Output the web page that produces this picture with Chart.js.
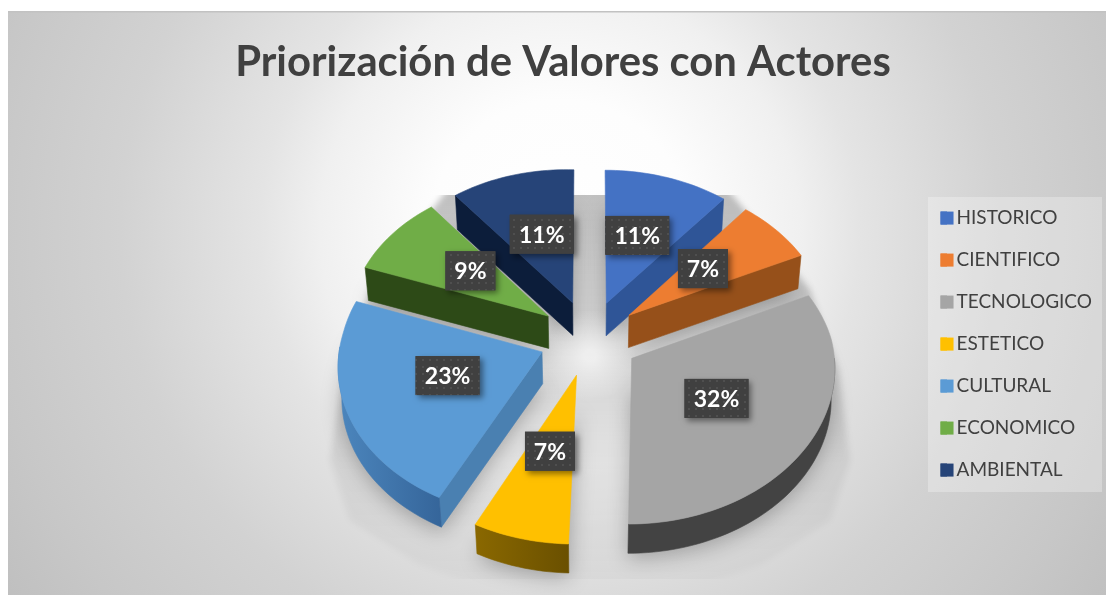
<!DOCTYPE html>
<html><head><meta charset="utf-8">
<style>html,body{margin:0;padding:0;background:#fff}canvas{display:block}</style>
<script src="https://cdn.jsdelivr.net/npm/chart.js@4/dist/chart.umd.min.js"></script>
</head><body>
<canvas id="c" width="1106" height="595"></canvas>
<script>
const categories = ['HISTORICO','CIENTIFICO','TECNOLOGICO','ESTETICO','CULTURAL','ECONOMICO','AMBIENTAL'];
const shareValues = [11,7,32,7,23,9,11];
const titleText = 'Priorización de Valores con Actores';

const topColors  = ['#4472C4','#ED7D31','#A5A5A5','#FFC000','#5B9BD5','#70AD47','#264478'];
const sideColors = ['#2F5597','#96501A','#5f5f5f','#7F6000','#4A80B1','#2D4A17','#0C1D3A'];
const rimFrom    = ['#2F5597','#96501A','#434343','#8A6800','#4C86BD','#2D4A17','#0C1D3A'];
const rimTo      = ['#2F5597','#96501A','#434343','#6A5000','#35659A','#2D4A17','#0C1D3A'];

/* 3-D view of the pie plane */
const view = {cx:589.5, cy:338, a:200.5, b:149, p:0.08, shearX:7, shearY:5, depth:32, depthSlope:2.4, converge:0.985};
const labelRadius = 0.49;
const labelLift = 4;
const explode = 0.224;

function project(u,v){const f=1/(1-view.p*v);
  return [view.cx+view.a*u*f-view.shearX*Math.max(v,0), view.cy+view.b*v*f+view.shearY*Math.min(u,0)];}
function projectBase(u,v){const q=project(u,v);
  return [view.cx+(q[0]-view.cx)*view.converge, q[1]+view.depth-view.depthSlope*v];}

function sliceGeom(el){
  const g=el.getProps(['startAngle','endAngle','outerRadius'],true);
  const mid=(g.startAngle+g.endAngle)/2, d=(el.options.offset||0)/g.outerRadius;
  return {a0:g.startAngle,a1:g.endAngle,mid,ox:Math.cos(mid)*d,oy:Math.sin(mid)*d};
}
function rimPts(s,from,to,fn){const n=Math.max(2,Math.ceil((to-from)/0.03)),pts=[];
  for(let i=0;i<=n;i++){const t=from+(to-from)*i/n;pts.push(fn(s.ox+Math.cos(t),s.oy+Math.sin(t)));}
  return pts;}
function poly(ctx,pts){ctx.beginPath();pts.forEach((q,i)=>i?ctx.lineTo(q[0],q[1]):ctx.moveTo(q[0],q[1]));ctx.closePath();}
function fillPoly(ctx,pts,fill){poly(ctx,pts);ctx.fillStyle=fill;ctx.strokeStyle=fill;ctx.lineWidth=0.6;ctx.fill();ctx.stroke();}

function dotPattern(ctx){
  const c=document.createElement('canvas');c.width=14;c.height=14;const x=c.getContext('2d');
  x.fillStyle='#404040';x.fillRect(0,0,14,14);x.fillStyle='#575757';
  [[3,3],[10,3],[3,10],[10,10]].forEach(q=>{x.beginPath();x.arc(q[0],q[1],0.9,0,7);x.fill();});
  return ctx.createPattern(c,'repeat');
}

const backdrop={id:'backdrop',beforeDraw(chart){
  const ctx=chart.ctx;ctx.save();
  ctx.fillStyle='#fff';ctx.fillRect(0,0,1106,595);
  const R=680,g=ctx.createRadialGradient(560,230,0,560,230,R);
  [[0,255],[130,253],[240,240],[300,228],[440,210],[580,199],[680,190]].forEach(s=>{
    g.addColorStop(s[0]/R,`rgb(${s[1]},${s[1]},${s[1]})`);});
  ctx.fillStyle=g;ctx.fillRect(8,12,1098,583);
  ctx.fillStyle='#c2c2c2';ctx.fillRect(8,11,1098,1.5);
  ctx.fillStyle='rgba(255,255,255,0.28)';ctx.fillRect(928,197,174,295);
  ctx.restore();
}};

const pie3d={id:'pie3d',
 beforeDatasetsDraw(chart){
  const ctx=chart.ctx, arcs=chart.getDatasetMeta(0).data, geoms=arcs.map(sliceGeom);
  // floor shadow
  ctx.save();
  ctx.beginPath();ctx.rect(300,195,580,384);ctx.clip();
  ctx.filter='blur(3px)';
  const fg=ctx.createLinearGradient(0,195,0,578);
  fg.addColorStop(0,'rgba(0,0,0,0.24)');fg.addColorStop(0.45,'rgba(0,0,0,0.15)');
  fg.addColorStop(0.7,'rgba(0,0,0,0.06)');fg.addColorStop(1,'rgba(0,0,0,0.02)');
  ctx.fillStyle=fg;
  poly(ctx,[[455,180],[720,180],[810,290],[838,370],[850,460],[830,520],[760,565],[690,590],[490,590],[420,565],[350,520],[330,460],[345,370],[370,290]]);
  ctx.fill();
  ctx.restore();
  // soft shadow under each slice
  ctx.save();ctx.filter='blur(10px)';
  geoms.forEach(s=>{
    const pts=[projectBase(s.ox,s.oy)].concat(rimPts(s,s.a0,s.a1,projectBase));
    poly(ctx,pts.map(q=>[q[0],q[1]+5]));ctx.fillStyle='rgba(0,0,0,0.26)';ctx.fill();
  });
  ctx.restore();
  // light spot at the hub
  ctx.save();
  const hg=ctx.createRadialGradient(590,356,6,590,356,46);
  hg.addColorStop(0,'rgba(255,255,255,0.6)');hg.addColorStop(1,'rgba(255,255,255,0)');
  ctx.fillStyle=hg;ctx.fillRect(530,305,120,110);
  ctx.restore();
  // slices, back to front
  const order=geoms.map((s,i)=>i).sort((i,j)=>Math.sin(geoms[i].mid)-Math.sin(geoms[j].mid));
  order.forEach(i=>{
    const s=geoms[i];
    const wall=(ang)=>{const ax=s.ox+Math.cos(ang),ay=s.oy+Math.sin(ang);
      fillPoly(ctx,[project(s.ox,s.oy),project(ax,ay),projectBase(ax,ay),projectBase(s.ox,s.oy)],sideColors[i]);};
    if(-Math.cos(s.a0)>0.001) wall(s.a0);
    if(Math.cos(s.a1)>0.001) wall(s.a1);
    const from=Math.max(s.a0,0),to=Math.min(s.a1,Math.PI);
    if(to>from){
      const topEdge=rimPts(s,from,to,project),baseEdge=rimPts(s,from,to,projectBase).reverse();
      const pts=topEdge.concat(baseEdge);
      const xs=pts.map(q=>q[0]),lg=ctx.createLinearGradient(Math.min(...xs),0,Math.max(...xs),0);
      lg.addColorStop(0,rimFrom[i]);lg.addColorStop(1,rimTo[i]);
      fillPoly(ctx,pts,lg);
    }
    const top=[project(s.ox,s.oy)].concat(rimPts(s,s.a0,s.a1,project));
    fillPoly(ctx,top,topColors[i]);
  });
  return false;
 },
 afterDraw(chart){
  const ctx=chart.ctx, arcs=chart.getDatasetMeta(0).data, pat=dotPattern(ctx);
  // full-size legend swatches, placed on the boxes the legend laid out
  chart.legend.legendHitBoxes.forEach((b,i)=>{
    ctx.fillStyle=topColors[i];ctx.fillRect(b.left,b.top+(b.height-13)/2,13,13);
  });
  arcs.forEach((el,i)=>{
    const s=sliceGeom(el);
    const q=project(s.ox+Math.cos(s.mid)*labelRadius,s.oy+Math.sin(s.mid)*labelRadius);
    q[1]-=labelLift*(1-Math.max(Math.cos(s.mid)>0?Math.sin(s.mid):Math.sin(s.mid)-0.4,0)*1.5);
    const txt=shareValues[i]+'%';
    ctx.save();
    ctx.font='bold 23px Lato';
    const w=Math.round(ctx.measureText(txt).width+18),h=39;
    ctx.shadowColor='rgba(0,0,0,0.45)';ctx.shadowBlur=6;ctx.shadowOffsetX=3;ctx.shadowOffsetY=3;
    ctx.fillStyle='#404040';ctx.fillRect(q[0]-w/2,q[1]-h/2,w,h);
    ctx.shadowColor='transparent';
    ctx.fillStyle=pat;ctx.fillRect(q[0]-w/2,q[1]-h/2,w,h);
    ctx.fillStyle='#fff';ctx.textAlign='center';ctx.textBaseline='middle';
    ctx.fillText(txt,q[0],q[1]+1);
    ctx.restore();
  });
 }
};

new Chart(document.getElementById('c'),{
  type:'pie',
  data:{labels:categories,datasets:[{data:shareValues,backgroundColor:topColors,borderWidth:0,
    offset:(c)=>{const A=c.chart.chartArea;return A?explode*Math.min(A.width,A.height)/2:40;}}]},
  plugins:[backdrop,pie3d],
  options:{responsive:false,animation:false,
    layout:{padding:{left:24,right:4,top:37,bottom:0}},
    plugins:{
      tooltip:{enabled:false},
      title:{display:true,text:titleText,color:'#404040',font:{family:'Lato',weight:'bold',size:41.8},padding:{top:0,bottom:6}},
      legend:{position:'right',fullSize:false,labels:{boxWidth:6.5,boxHeight:13,padding:23,color:'#404040',font:{family:'Lato',size:19}}}
    }
  }
});
</script>
</body></html>
